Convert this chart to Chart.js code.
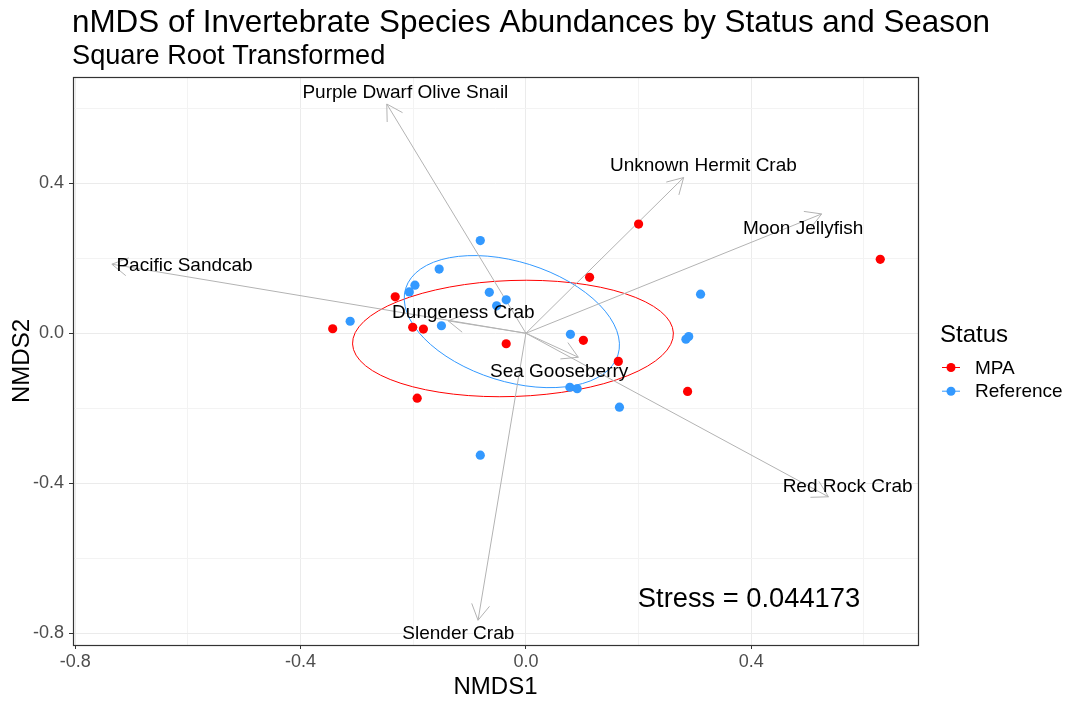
<!DOCTYPE html>
<html>
<head>
<meta charset="utf-8">
<script src="https://cdn.jsdelivr.net/npm/chart.js@4"></script>
<style>
  html, body { margin: 0; padding: 0; background: #fff; }
</style>
</head>
<body>
<canvas id="nmdsChart" width="1080" height="704"></canvas>
<script>
const FONT = '"Liberation Sans", Arial, sans-serif';

// site scores (NMDS1, NMDS2) by status
const mpaX = [0.200, 0.113, -0.232, -0.343, -0.201, -0.182, -0.035, 0.102, 0.164, -0.193, 0.629, 0.287];
const mpaY = [0.291, 0.149, 0.097, 0.012, 0.016, 0.011, -0.028, -0.019, -0.075, -0.173, 0.197, -0.155];
const refX = [-0.081, -0.154, -0.197, -0.207, -0.065, -0.035, -0.052, -0.312, -0.150, 0.079, 0.078, 0.091, 0.166, 0.310, 0.284, 0.289, -0.081];
const refY = [0.247, 0.171, 0.128, 0.110, 0.109, 0.089, 0.073, 0.032, 0.020, -0.003, -0.144, -0.148, -0.197, 0.104, -0.016, -0.009, -0.325];

// species vectors (envfit) and their label positions
const species = ['Purple Dwarf Olive Snail', 'Unknown Hermit Crab', 'Moon Jellyfish', 'Pacific Sandcab',
                 'Dungeness Crab', 'Sea Gooseberry', 'Red Rock Crab', 'Slender Crab'];
const vecX = [-0.247, 0.280, 0.525, -0.735, -0.138, 0.093, 0.537, -0.085];
const vecY = [0.611, 0.415, 0.318, 0.184, 0.033, -0.064, -0.436, -0.765];
const labX = [-0.214, 0.315, 0.492, -0.606, -0.111, 0.059, 0.571, -0.120];
const labY = [0.641, 0.446, 0.278, 0.180, 0.054, -0.103, -0.410, -0.802];

// status ellipses: centre and shape matrix
const statuses = ['MPA', 'Reference'];
const statusColors = ['#ff0000', '#3399ff'];
const ellCx = [-0.023, -0.025];
const ellCy = [-0.014, 0.031];
const ellSxx = [0.0811, 0.0365];
const ellSyy = [0.0241, 0.0310];
const ellSxy = [0.0036, -0.0119];

// axes
const gridVals = [-0.8, -0.6, -0.4, -0.2, 0, 0.2, 0.4, 0.6];
const xMin = -0.804, xMax = 0.696;
const yMin = -0.831, yMax = 0.683;
const stressText = 'Stress = 0.044173';
const stressPos = [0.396, -0.7085];

const isMajor = v => Math.abs(Math.round(v / 0.4) * 0.4 - v) < 1e-9;

const overlay = {
  id: 'overlay',
  beforeDatasetsDraw(chart) {
    const {ctx, chartArea: a, scales: {x, y}} = chart;
    ctx.save();
    ctx.beginPath();
    ctx.rect(a.left, a.top, a.right - a.left, a.bottom - a.top);
    ctx.clip();
    const kx = Math.abs(x.getPixelForValue(1) - x.getPixelForValue(0));
    const ky = Math.abs(y.getPixelForValue(1) - y.getPixelForValue(0));
    ellCx.forEach((cx, i) => {
      const A = ellSxx[i] * kx * kx, C = ellSyy[i] * ky * ky, B = -ellSxy[i] * kx * ky;
      const m = (A + C) / 2, d = Math.sqrt(((A - C) / 2) ** 2 + B * B);
      const th = 0.5 * Math.atan2(2 * B, A - C);
      ctx.beginPath();
      ctx.ellipse(x.getPixelForValue(cx), y.getPixelForValue(ellCy[i]),
                  Math.sqrt(m + d), Math.sqrt(m - d), th, 0, 2 * Math.PI);
      ctx.strokeStyle = statusColors[i];
      ctx.lineWidth = 1;
      ctx.stroke();
    });
    // arrows
    const ox = x.getPixelForValue(0), oy = y.getPixelForValue(0);
    ctx.strokeStyle = '#b3b3b3';
    ctx.lineWidth = 1;
    vecX.forEach((vx, i) => {
      const ex = x.getPixelForValue(vx), ey = y.getPixelForValue(vecY[i]);
      const ang = Math.atan2(ey - oy, ex - ox);
      const hl = 18, ha = Math.PI / 6;
      ctx.beginPath();
      ctx.moveTo(ox, oy);
      ctx.lineTo(ex, ey);
      ctx.moveTo(ex - hl * Math.cos(ang - ha), ey - hl * Math.sin(ang - ha));
      ctx.lineTo(ex, ey);
      ctx.lineTo(ex - hl * Math.cos(ang + ha), ey - hl * Math.sin(ang + ha));
      ctx.stroke();
    });
    ctx.restore();
  },
  afterDraw(chart) {
    const {ctx, chartArea: a, scales: {x, y}} = chart;
    ctx.save();
    // species labels
    ctx.fillStyle = '#000';
    ctx.font = '19px ' + FONT;
    ctx.textAlign = 'center';
    ctx.textBaseline = 'middle';
    species.forEach((s, i) => {
      ctx.fillText(s, x.getPixelForValue(labX[i]), y.getPixelForValue(labY[i]));
    });
    // stress
    ctx.font = '27.3px ' + FONT;
    ctx.fillText(stressText, x.getPixelForValue(stressPos[0]), y.getPixelForValue(stressPos[1]));
    // panel border
    ctx.strokeStyle = '#333333';
    ctx.lineWidth = 1.2;
    ctx.strokeRect(Math.round(a.left) + 0.5, Math.round(a.top) + 0.5,
                   Math.round(a.right - a.left), Math.round(a.bottom - a.top));
    // title + subtitle
    ctx.textAlign = 'left';
    ctx.textBaseline = 'alphabetic';
    ctx.font = '31.4px ' + FONT;
    ctx.fillText('nMDS of Invertebrate Species Abundances by Status and Season', 72, 32);
    ctx.font = '27.2px ' + FONT;
    ctx.fillText('Square Root Transformed', 72, 64);
    // legend
    ctx.font = '24px ' + FONT;
    ctx.fillText('Status', 940, 342);
    statuses.forEach((s, i) => {
      const ly = 367.5 + i * 23.7;
      ctx.strokeStyle = statusColors[i];
      ctx.fillStyle = statusColors[i];
      ctx.lineWidth = 1;
      ctx.beginPath();
      ctx.moveTo(942, ly);
      ctx.lineTo(960, ly);
      ctx.stroke();
      ctx.beginPath();
      ctx.arc(951, ly, 4.5, 0, 2 * Math.PI);
      ctx.fill();
      ctx.fillStyle = '#000';
      ctx.font = '19px ' + FONT;
      ctx.textBaseline = 'middle';
      ctx.fillText(s, 975, ly + 1);
    });
    ctx.restore();
  }
};

const tickFont = {family: FONT, size: 18};
const axisTitleFont = {family: FONT, size: 24};

const ctx = document.getElementById('nmdsChart').getContext('2d');

new Chart(ctx, {
  type: 'scatter',
  data: {
    datasets: [
      {
        label: 'MPA',
        data: mpaX.map((v, i) => ({x: v, y: mpaY[i]})),
        backgroundColor: statusColors[0],
        borderWidth: 0,
        pointRadius: 4.6
      },
      {
        label: 'Reference',
        data: refX.map((v, i) => ({x: v, y: refY[i]})),
        backgroundColor: statusColors[1],
        borderWidth: 0,
        pointRadius: 4.6
      }
    ]
  },
  options: {
    responsive: false,
    animation: false,
    layout: { padding: { top: 77, right: 162, bottom: 0, left: 0 } },
    plugins: {
      legend: { display: false },
      title: { display: false },
      tooltip: { enabled: false }
    },
    scales: {
      x: {
        type: 'linear',
        min: xMin,
        max: xMax,
        afterBuildTicks: s => { s.ticks = gridVals.map(v => ({value: v})); },
        afterFit: s => { s.height = 59; },
        ticks: {
          autoSkip: false,
          maxRotation: 0,
          padding: 2,
          color: '#4d4d4d',
          font: tickFont,
          callback: v => isMajor(v) ? v.toFixed(1) : ''
        },
        grid: {
          color: c => isMajor(c.tick.value) ? '#ebebeb' : '#f3f3f3',
          tickColor: c => isMajor(c.tick.value) ? '#333333' : 'rgba(0,0,0,0)',
          tickLength: 4,
          lineWidth: 1
        },
        border: { display: false },
        title: { display: true, text: 'NMDS1', color: '#000', font: axisTitleFont, padding: {top: 0, bottom: 2} }
      },
      y: {
        type: 'linear',
        min: yMin,
        max: yMax,
        afterBuildTicks: s => { s.ticks = gridVals.map(v => ({value: v})); },
        afterFit: s => { s.width = 73; },
        ticks: {
          autoSkip: false,
          padding: 5,
          color: '#4d4d4d',
          font: tickFont,
          callback: v => isMajor(v) ? v.toFixed(1) : ''
        },
        grid: {
          color: c => isMajor(c.tick.value) ? '#ebebeb' : '#f3f3f3',
          tickColor: c => isMajor(c.tick.value) ? '#333333' : 'rgba(0,0,0,0)',
          tickLength: 4,
          lineWidth: 1
        },
        border: { display: false },
        title: { display: true, text: 'NMDS2', color: '#000', font: axisTitleFont, padding: {top: 8, bottom: 0} }
      }
    }
  },
  plugins: [overlay]
});
</script>
</body>
</html>
